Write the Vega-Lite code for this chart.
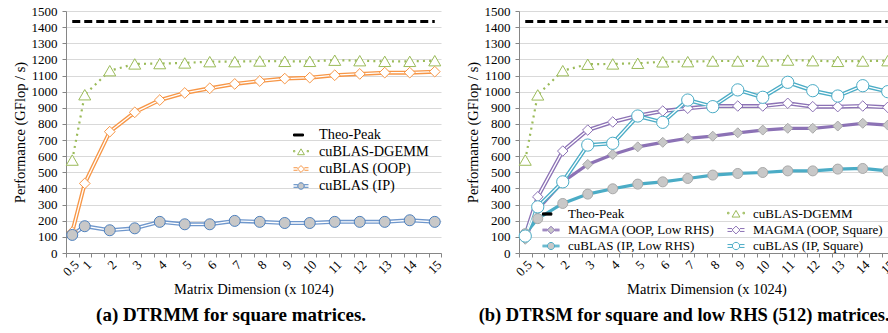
{
"$schema": "https://vega.github.io/schema/vega-lite/v6.json",
"background": "white",
"padding": {"left": 12, "top": 5, "right": 0, "bottom": 0},
"spacing": 14,
"config": {
  "view": {"stroke": null},
  "font": "Liberation Serif",
  "axis": {"labelFont": "Liberation Serif", "labelFontSize": 13, "titleFont": "Liberation Serif", "titleFontSize": 14.5, "titleFontWeight": "normal", "domainColor": "#868686", "tickColor": "#868686", "labelColor": "#000000", "titleColor": "#000000"}
},
"datasets": {
"a": [
{"s":"Theo-Peak","x":0.5,"y":1435},{"s":"Theo-Peak","x":1,"y":1435},{"s":"Theo-Peak","x":2,"y":1435},{"s":"Theo-Peak","x":3,"y":1435},{"s":"Theo-Peak","x":4,"y":1435},{"s":"Theo-Peak","x":5,"y":1435},{"s":"Theo-Peak","x":6,"y":1435},{"s":"Theo-Peak","x":7,"y":1435},{"s":"Theo-Peak","x":8,"y":1435},{"s":"Theo-Peak","x":9,"y":1435},{"s":"Theo-Peak","x":10,"y":1435},{"s":"Theo-Peak","x":11,"y":1435},{"s":"Theo-Peak","x":12,"y":1435},{"s":"Theo-Peak","x":13,"y":1435},{"s":"Theo-Peak","x":14,"y":1435},{"s":"Theo-Peak","x":15,"y":1435},
{"s":"cuBLAS-DGEMM","x":0.5,"y":576},{"s":"cuBLAS-DGEMM","x":1,"y":981},{"s":"cuBLAS-DGEMM","x":2,"y":1130},{"s":"cuBLAS-DGEMM","x":3,"y":1172},{"s":"cuBLAS-DGEMM","x":4,"y":1174},{"s":"cuBLAS-DGEMM","x":5,"y":1178},{"s":"cuBLAS-DGEMM","x":6,"y":1186},{"s":"cuBLAS-DGEMM","x":7,"y":1186},{"s":"cuBLAS-DGEMM","x":8,"y":1190},{"s":"cuBLAS-DGEMM","x":9,"y":1188},{"s":"cuBLAS-DGEMM","x":10,"y":1188},{"s":"cuBLAS-DGEMM","x":11,"y":1195},{"s":"cuBLAS-DGEMM","x":12,"y":1192},{"s":"cuBLAS-DGEMM","x":13,"y":1188},{"s":"cuBLAS-DGEMM","x":14,"y":1188},{"s":"cuBLAS-DGEMM","x":15,"y":1192},
{"s":"cuBLAS (OOP)","x":0.5,"y":130},{"s":"cuBLAS (OOP)","x":1,"y":431},{"s":"cuBLAS (OOP)","x":2,"y":752},{"s":"cuBLAS (OOP)","x":3,"y":872},{"s":"cuBLAS (OOP)","x":4,"y":948},{"s":"cuBLAS (OOP)","x":5,"y":992},{"s":"cuBLAS (OOP)","x":6,"y":1021},{"s":"cuBLAS (OOP)","x":7,"y":1048},{"s":"cuBLAS (OOP)","x":8,"y":1066},{"s":"cuBLAS (OOP)","x":9,"y":1081},{"s":"cuBLAS (OOP)","x":10,"y":1087},{"s":"cuBLAS (OOP)","x":11,"y":1102},{"s":"cuBLAS (OOP)","x":12,"y":1110},{"s":"cuBLAS (OOP)","x":13,"y":1118},{"s":"cuBLAS (OOP)","x":14,"y":1118},{"s":"cuBLAS (OOP)","x":15,"y":1124},
{"s":"cuBLAS (IP)","x":0.5,"y":112},{"s":"cuBLAS (IP)","x":1,"y":166},{"s":"cuBLAS (IP)","x":2,"y":141},{"s":"cuBLAS (IP)","x":3,"y":153},{"s":"cuBLAS (IP)","x":4,"y":193},{"s":"cuBLAS (IP)","x":5,"y":178},{"s":"cuBLAS (IP)","x":6,"y":178},{"s":"cuBLAS (IP)","x":7,"y":199},{"s":"cuBLAS (IP)","x":8,"y":193},{"s":"cuBLAS (IP)","x":9,"y":186},{"s":"cuBLAS (IP)","x":10,"y":186},{"s":"cuBLAS (IP)","x":11,"y":193},{"s":"cuBLAS (IP)","x":12,"y":193},{"s":"cuBLAS (IP)","x":13,"y":193},{"s":"cuBLAS (IP)","x":14,"y":203},{"s":"cuBLAS (IP)","x":15,"y":193}
],
"b": [
{"s":"Theo-Peak","x":0.5,"y":1435},{"s":"Theo-Peak","x":1,"y":1435},{"s":"Theo-Peak","x":2,"y":1435},{"s":"Theo-Peak","x":3,"y":1435},{"s":"Theo-Peak","x":4,"y":1435},{"s":"Theo-Peak","x":5,"y":1435},{"s":"Theo-Peak","x":6,"y":1435},{"s":"Theo-Peak","x":7,"y":1435},{"s":"Theo-Peak","x":8,"y":1435},{"s":"Theo-Peak","x":9,"y":1435},{"s":"Theo-Peak","x":10,"y":1435},{"s":"Theo-Peak","x":11,"y":1435},{"s":"Theo-Peak","x":12,"y":1435},{"s":"Theo-Peak","x":13,"y":1435},{"s":"Theo-Peak","x":14,"y":1435},{"s":"Theo-Peak","x":15,"y":1435},
{"s":"cuBLAS-DGEMM","x":0.5,"y":576},{"s":"cuBLAS-DGEMM","x":1,"y":980},{"s":"cuBLAS-DGEMM","x":2,"y":1130},{"s":"cuBLAS-DGEMM","x":3,"y":1170},{"s":"cuBLAS-DGEMM","x":4,"y":1172},{"s":"cuBLAS-DGEMM","x":5,"y":1176},{"s":"cuBLAS-DGEMM","x":6,"y":1185},{"s":"cuBLAS-DGEMM","x":7,"y":1186},{"s":"cuBLAS-DGEMM","x":8,"y":1190},{"s":"cuBLAS-DGEMM","x":9,"y":1190},{"s":"cuBLAS-DGEMM","x":10,"y":1190},{"s":"cuBLAS-DGEMM","x":11,"y":1196},{"s":"cuBLAS-DGEMM","x":12,"y":1192},{"s":"cuBLAS-DGEMM","x":13,"y":1188},{"s":"cuBLAS-DGEMM","x":14,"y":1190},{"s":"cuBLAS-DGEMM","x":15,"y":1192},
{"s":"MAGMA (OOP, Low RHS)","x":0.5,"y":85},{"s":"MAGMA (OOP, Low RHS)","x":1,"y":270},{"s":"MAGMA (OOP, Low RHS)","x":2,"y":441},{"s":"MAGMA (OOP, Low RHS)","x":3,"y":549},{"s":"MAGMA (OOP, Low RHS)","x":4,"y":611},{"s":"MAGMA (OOP, Low RHS)","x":5,"y":658},{"s":"MAGMA (OOP, Low RHS)","x":6,"y":686},{"s":"MAGMA (OOP, Low RHS)","x":7,"y":711},{"s":"MAGMA (OOP, Low RHS)","x":8,"y":724},{"s":"MAGMA (OOP, Low RHS)","x":9,"y":745},{"s":"MAGMA (OOP, Low RHS)","x":10,"y":762},{"s":"MAGMA (OOP, Low RHS)","x":11,"y":773},{"s":"MAGMA (OOP, Low RHS)","x":12,"y":773},{"s":"MAGMA (OOP, Low RHS)","x":13,"y":787},{"s":"MAGMA (OOP, Low RHS)","x":14,"y":804},{"s":"MAGMA (OOP, Low RHS)","x":15,"y":793},
{"s":"MAGMA (OOP, Square)","x":0.5,"y":110},{"s":"MAGMA (OOP, Square)","x":1,"y":348},{"s":"MAGMA (OOP, Square)","x":2,"y":632},{"s":"MAGMA (OOP, Square)","x":3,"y":762},{"s":"MAGMA (OOP, Square)","x":4,"y":812},{"s":"MAGMA (OOP, Square)","x":5,"y":851},{"s":"MAGMA (OOP, Square)","x":6,"y":880},{"s":"MAGMA (OOP, Square)","x":7,"y":897},{"s":"MAGMA (OOP, Square)","x":8,"y":911},{"s":"MAGMA (OOP, Square)","x":9,"y":911},{"s":"MAGMA (OOP, Square)","x":10,"y":911},{"s":"MAGMA (OOP, Square)","x":11,"y":928},{"s":"MAGMA (OOP, Square)","x":12,"y":907},{"s":"MAGMA (OOP, Square)","x":13,"y":907},{"s":"MAGMA (OOP, Square)","x":14,"y":911},{"s":"MAGMA (OOP, Square)","x":15,"y":903},
{"s":"cuBLAS (IP, Low RHS)","x":0.5,"y":120},{"s":"cuBLAS (IP, Low RHS)","x":1,"y":213},{"s":"cuBLAS (IP, Low RHS)","x":2,"y":307},{"s":"cuBLAS (IP, Low RHS)","x":3,"y":365},{"s":"cuBLAS (IP, Low RHS)","x":4,"y":398},{"s":"cuBLAS (IP, Low RHS)","x":5,"y":427},{"s":"cuBLAS (IP, Low RHS)","x":6,"y":441},{"s":"cuBLAS (IP, Low RHS)","x":7,"y":462},{"s":"cuBLAS (IP, Low RHS)","x":8,"y":483},{"s":"cuBLAS (IP, Low RHS)","x":9,"y":493},{"s":"cuBLAS (IP, Low RHS)","x":10,"y":499},{"s":"cuBLAS (IP, Low RHS)","x":11,"y":509},{"s":"cuBLAS (IP, Low RHS)","x":12,"y":509},{"s":"cuBLAS (IP, Low RHS)","x":13,"y":520},{"s":"cuBLAS (IP, Low RHS)","x":14,"y":524},{"s":"cuBLAS (IP, Low RHS)","x":15,"y":509},
{"s":"cuBLAS (IP, Square)","x":0.5,"y":105},{"s":"cuBLAS (IP, Square)","x":1,"y":286},{"s":"cuBLAS (IP, Square)","x":2,"y":441},{"s":"cuBLAS (IP, Square)","x":3,"y":669},{"s":"cuBLAS (IP, Square)","x":4,"y":680},{"s":"cuBLAS (IP, Square)","x":5,"y":849},{"s":"cuBLAS (IP, Square)","x":6,"y":810},{"s":"cuBLAS (IP, Square)","x":7,"y":948},{"s":"cuBLAS (IP, Square)","x":8,"y":907},{"s":"cuBLAS (IP, Square)","x":9,"y":1011},{"s":"cuBLAS (IP, Square)","x":10,"y":965},{"s":"cuBLAS (IP, Square)","x":11,"y":1058},{"s":"cuBLAS (IP, Square)","x":12,"y":1006},{"s":"cuBLAS (IP, Square)","x":13,"y":973},{"s":"cuBLAS (IP, Square)","x":14,"y":1037},{"s":"cuBLAS (IP, Square)","x":15,"y":1000}
]
},
"hconcat": [
{
  "width": 375, "height": 242,
  "data": {"name": "a"},
  "title": {"text": "(a)  DTRMM for square matrices.", "orient": "bottom", "frame": "bounds", "anchor": "middle", "fontSize": 19, "fontWeight": "bold", "font": "Liberation Serif", "offset": 10, "color": "#000000"},
  "encoding": {
    "x": {"field": "x", "type": "quantitative", "scale": {"domain": [0.25, 15.25], "nice": false, "zero": false},
      "axis": {"title": "Matrix Dimension (x 1024)", "values": [0.25,0.5,0.75,1,1.25,1.5,1.75,2,2.25,2.5,2.75,3,3.25,3.5,3.75,4,4.25,4.5,4.75,5,5.25,5.5,5.75,6,6.25,6.5,6.75,7,7.25,7.5,7.75,8,8.25,8.5,8.75,9,9.25,9.5,9.75,10,10.25,10.5,10.75,11,11.25,11.5,11.75,12,12.25,12.5,12.75,13,13.25,13.5,13.75,14,14.25,14.5,14.75,15,15.25],
        "labelExpr": "datum.value == 0.5 || (datum.value >= 1 && datum.value % 1 == 0) ? '' + datum.value : ''",
        "tickOpacity": {"condition": {"test": "datum.value % 0.5 == 0.25", "value": 1}, "value": 0},
        "grid": false, "labelAngle": -45, "labelAlign": "right", "labelBaseline": "top", "labelOverlap": false, "labelFlush": false, "tickSize": 4, "labelPadding": 1, "titlePadding": 4}},
    "y": {"field": "y", "type": "quantitative", "scale": {"domain": [0, 1500], "nice": false},
      "axis": {"title": "Performance (GFlop / s)", "format": "d", "values": [0,100,200,300,400,500,600,700,800,900,1000,1100,1200,1300,1400,1500], "gridColor": "#d9d9d9", "tickSize": 4, "labelPadding": 5, "titlePadding": 4}}
  },
  "resolve": {"scale": {"stroke": "independent", "fill": "independent", "shape": "independent", "size": "independent"}},
  "layer": [
    {"transform": [{"filter": "datum.s == 'Theo-Peak'"}], "mark": {"type": "line", "stroke": "#000000", "strokeWidth": 3, "strokeDash": [8, 4]}},
    {"transform": [{"filter": "datum.s == 'cuBLAS-DGEMM'"}], "mark": {"type": "line", "stroke": "#9bbb59", "strokeWidth": 2.2, "strokeDash": [2, 4.2]}},
    {"transform": [{"filter": "datum.s == 'cuBLAS (OOP)' || datum.s == 'cuBLAS (IP)'"}], "mark": {"type": "line", "strokeWidth": 4},
     "encoding": {"stroke": {"field": "s", "type": "nominal", "scale": {"domain": ["cuBLAS (OOP)", "cuBLAS (IP)"], "range": ["#f79646", "#6f97cc"]}, "legend": null}}},
    {"transform": [{"filter": "datum.s == 'cuBLAS (OOP)' || datum.s == 'cuBLAS (IP)'"}], "mark": {"type": "line", "strokeWidth": 1.3, "stroke": "#ffffff"},
     "encoding": {"detail": {"field": "s", "type": "nominal"}}},
    {"transform": [{"filter": "datum.s != 'Theo-Peak'"}], "mark": {"type": "point", "strokeWidth": 1, "opacity": 1, "fillOpacity": 1},
     "encoding": {
       "shape": {"field": "s", "type": "nominal", "scale": {"domain": ["cuBLAS-DGEMM", "cuBLAS (OOP)", "cuBLAS (IP)"], "range": ["triangle-up", "diamond", "circle"]}, "legend": null},
       "fill": {"field": "s", "type": "nominal", "scale": {"domain": ["cuBLAS-DGEMM", "cuBLAS (OOP)", "cuBLAS (IP)"], "range": ["#ffffff", "#ffffff", "#c8c8c8"]}, "legend": null},
       "stroke": {"field": "s", "type": "nominal", "scale": {"domain": ["cuBLAS-DGEMM", "cuBLAS (OOP)", "cuBLAS (IP)"], "range": ["#9bbb59", "#f79646", "#4f81bd"]}, "legend": null},
       "size": {"field": "s", "type": "nominal", "scale": {"type": "ordinal", "domain": ["cuBLAS-DGEMM", "cuBLAS (OOP)", "cuBLAS (IP)"], "range": [144, 115, 121]}, "legend": null}
     }},
    {"transform": [{"filter": "datum.x > 99"}], "mark": {"type": "point", "strokeWidth": 1, "opacity": 1},
     "encoding": {
       "shape": {"field": "s", "type": "nominal", "scale": {"domain": ["Theo-Peak", "cuBLAS-DGEMM", "cuBLAS (OOP)", "cuBLAS (IP)"], "range": ["M-1,-0.13H0.33V0.13H-1Z", "M-1,-0.2h0.18v0.18h-0.18Z M0.82,-0.2h0.18v0.18h-0.18Z M0,-0.42L0.46,0.36L-0.46,0.36Z", "M-1,-0.17H-0.46M0.46,-0.17H1M-1,0.17H-0.46M0.46,0.17H1M0,-0.46L0.46,0L0,0.46L-0.46,0Z", "M-1,-0.17H-0.43M0.43,-0.17H1M-1,0.17H-0.43M0.43,0.17H1M-0.43,0A0.43,0.43 0 1,1 0.43,0A0.43,0.43 0 1,1 -0.43,0Z"]},
         "legend": {"orient": "none", "legendX": 227, "legendY": 116, "title": null, "labelFont": "Liberation Serif", "labelFontSize": 14.3, "labelColor": "#000000", "symbolSize": 225, "symbolStrokeWidth": 1, "rowPadding": 1, "labelOffset": 10, "padding": 0, "symbolOpacity": 1, "labelLimit": 300}},
       "fill": {"field": "s", "type": "nominal", "scale": {"domain": ["Theo-Peak", "cuBLAS-DGEMM", "cuBLAS (OOP)", "cuBLAS (IP)"], "range": ["#000000", "#ffffff", "#ffffff", "#c8c8c8"]},
         "legend": {"orient": "none", "legendX": 227, "legendY": 116, "title": null, "labelFont": "Liberation Serif", "labelFontSize": 14.3, "labelColor": "#000000", "symbolSize": 225, "symbolStrokeWidth": 1, "rowPadding": 1, "labelOffset": 10, "padding": 0, "symbolOpacity": 1, "labelLimit": 300}},
       "stroke": {"field": "s", "type": "nominal", "scale": {"domain": ["Theo-Peak", "cuBLAS-DGEMM", "cuBLAS (OOP)", "cuBLAS (IP)"], "range": ["#000000", "#9bbb59", "#f79646", "#4f81bd"]},
         "legend": {"orient": "none", "legendX": 227, "legendY": 116, "title": null, "labelFont": "Liberation Serif", "labelFontSize": 14.3, "labelColor": "#000000", "symbolSize": 225, "symbolStrokeWidth": 1, "rowPadding": 1, "labelOffset": 10, "padding": 0, "symbolOpacity": 1, "labelLimit": 300}}
     }}
  ]
},
{
  "width": 375, "height": 242,
  "data": {"name": "b"},
  "title": {"text": "(b)  DTRSM for square and low RHS (512) matrices.", "orient": "bottom", "frame": "bounds", "anchor": "middle", "fontSize": 18.5, "fontWeight": "bold", "font": "Liberation Serif", "offset": 10, "color": "#000000"},
  "encoding": {
    "x": {"field": "x", "type": "quantitative", "scale": {"domain": [0.25, 15.25], "nice": false, "zero": false},
      "axis": {"title": "Matrix Dimension (x 1024)", "values": [0.25,0.5,0.75,1,1.25,1.5,1.75,2,2.25,2.5,2.75,3,3.25,3.5,3.75,4,4.25,4.5,4.75,5,5.25,5.5,5.75,6,6.25,6.5,6.75,7,7.25,7.5,7.75,8,8.25,8.5,8.75,9,9.25,9.5,9.75,10,10.25,10.5,10.75,11,11.25,11.5,11.75,12,12.25,12.5,12.75,13,13.25,13.5,13.75,14,14.25,14.5,14.75,15,15.25],
        "labelExpr": "datum.value == 0.5 || (datum.value >= 1 && datum.value % 1 == 0) ? '' + datum.value : ''",
        "tickOpacity": {"condition": {"test": "datum.value % 0.5 == 0.25", "value": 1}, "value": 0},
        "grid": false, "labelAngle": -45, "labelAlign": "right", "labelBaseline": "top", "labelOverlap": false, "labelFlush": false, "tickSize": 4, "labelPadding": 1, "titlePadding": 4}},
    "y": {"field": "y", "type": "quantitative", "scale": {"domain": [0, 1500], "nice": false},
      "axis": {"title": "Performance (GFlop / s)", "format": "d", "values": [0,100,200,300,400,500,600,700,800,900,1000,1100,1200,1300,1400,1500], "gridColor": "#d9d9d9", "tickSize": 4, "labelPadding": 5, "titlePadding": 4}}
  },
  "resolve": {"scale": {"stroke": "independent", "fill": "independent", "shape": "independent", "size": "independent"}},
  "layer": [
    {"transform": [{"filter": "datum.s == 'Theo-Peak'"}], "mark": {"type": "line", "stroke": "#000000", "strokeWidth": 3, "strokeDash": [8, 4]}},
    {"transform": [{"filter": "datum.s == 'cuBLAS-DGEMM'"}], "mark": {"type": "line", "stroke": "#9bbb59", "strokeWidth": 2.2, "strokeDash": [2, 4.2]}},
    {"transform": [{"filter": "datum.s == 'MAGMA (OOP, Low RHS)' || datum.s == 'cuBLAS (IP, Low RHS)'"}], "mark": {"type": "line", "strokeWidth": 3.2},
     "encoding": {"stroke": {"field": "s", "type": "nominal", "scale": {"domain": ["MAGMA (OOP, Low RHS)", "cuBLAS (IP, Low RHS)"], "range": ["#8c72b5", "#4bacc6"]}, "legend": null}}},
    {"transform": [{"filter": "datum.s == 'MAGMA (OOP, Square)' || datum.s == 'cuBLAS (IP, Square)'"}], "mark": {"type": "line", "strokeWidth": 4},
     "encoding": {"stroke": {"field": "s", "type": "nominal", "scale": {"domain": ["MAGMA (OOP, Square)", "cuBLAS (IP, Square)"], "range": ["#8c72b5", "#4bacc6"]}, "legend": null}}},
    {"transform": [{"filter": "datum.s == 'MAGMA (OOP, Square)' || datum.s == 'cuBLAS (IP, Square)'"}], "mark": {"type": "line", "strokeWidth": 1.3, "stroke": "#ffffff"},
     "encoding": {"detail": {"field": "s", "type": "nominal"}}},
    {"transform": [{"filter": "datum.s != 'Theo-Peak'"}], "mark": {"type": "point", "strokeWidth": 1, "opacity": 1, "fillOpacity": 1},
     "encoding": {
       "shape": {"field": "s", "type": "nominal", "scale": {"domain": ["cuBLAS-DGEMM", "MAGMA (OOP, Low RHS)", "MAGMA (OOP, Square)", "cuBLAS (IP, Low RHS)", "cuBLAS (IP, Square)"], "range": ["triangle-up", "diamond", "diamond", "circle", "circle"]}, "legend": null},
       "fill": {"field": "s", "type": "nominal", "scale": {"domain": ["cuBLAS-DGEMM", "MAGMA (OOP, Low RHS)", "MAGMA (OOP, Square)", "cuBLAS (IP, Low RHS)", "cuBLAS (IP, Square)"], "range": ["#ffffff", "#c8c8c8", "#ffffff", "#c8c8c8", "#ffffff"]}, "legend": null},
       "stroke": {"field": "s", "type": "nominal", "scale": {"domain": ["cuBLAS-DGEMM", "MAGMA (OOP, Low RHS)", "MAGMA (OOP, Square)", "cuBLAS (IP, Low RHS)", "cuBLAS (IP, Square)"], "range": ["#9bbb59", "#a9a9a9", "#8c72b5", "#a9a9a9", "#4bacc6"]}, "legend": null},
       "size": {"field": "s", "type": "nominal", "scale": {"type": "ordinal", "domain": ["cuBLAS-DGEMM", "MAGMA (OOP, Low RHS)", "MAGMA (OOP, Square)", "cuBLAS (IP, Low RHS)", "cuBLAS (IP, Square)"], "range": [144, 100, 110, 100, 150]}, "legend": null}
     }},
    {"transform": [{"filter": "datum.x > 99"}], "mark": {"type": "point", "strokeWidth": 1, "opacity": 1},
     "encoding": {
       "shape": {"field": "s", "type": "nominal", "scale": {"domain": ["Theo-Peak", "MAGMA (OOP, Low RHS)", "cuBLAS (IP, Low RHS)", "cuBLAS-DGEMM", "MAGMA (OOP, Square)", "cuBLAS (IP, Square)"], "range": ["M-1,-0.13H0.1V0.13H-1Z", "M-1,-0.1H-0.44M0.44,-0.1H1M-1,0H-0.44M0.44,0H1M-1,0.1H-0.44M0.44,0.1H1M0,-0.44L0.44,0L0,0.44L-0.44,0Z", "M-1,-0.1H-0.42M0.42,-0.1H1M-1,0H-0.42M0.42,0H1M-1,0.1H-0.42M0.42,0.1H1M-0.42,0A0.42,0.42 0 1,1 0.42,0A0.42,0.42 0 1,1 -0.42,0Z", "M-1,-0.2h0.18v0.18h-0.18Z M0.82,-0.2h0.18v0.18h-0.18Z M0,-0.42L0.46,0.36L-0.46,0.36Z", "M-1,-0.17H-0.46M0.46,-0.17H1M-1,0.17H-0.46M0.46,0.17H1M0,-0.46L0.46,0L0,0.46L-0.46,0Z", "M-1,-0.17H-0.43M0.43,-0.17H1M-1,0.17H-0.43M0.43,0.17H1M-0.43,0A0.43,0.43 0 1,1 0.43,0A0.43,0.43 0 1,1 -0.43,0Z"]},
         "legend": {"orient": "none", "legendX": 23, "legendY": 194, "title": null, "columns": 2, "labelFont": "Liberation Serif", "labelFontSize": 13, "labelColor": "#000000", "symbolSize": 289, "symbolStrokeWidth": 1, "rowPadding": 0, "columnPadding": 10, "labelOffset": 8, "padding": 0, "symbolOpacity": 1, "labelLimit": 300}},
       "fill": {"field": "s", "type": "nominal", "scale": {"domain": ["Theo-Peak", "MAGMA (OOP, Low RHS)", "cuBLAS (IP, Low RHS)", "cuBLAS-DGEMM", "MAGMA (OOP, Square)", "cuBLAS (IP, Square)"], "range": ["#000000", "#c8c8c8", "#c8c8c8", "#ffffff", "#ffffff", "#ffffff"]},
         "legend": {"orient": "none", "legendX": 23, "legendY": 194, "title": null, "columns": 2, "labelFont": "Liberation Serif", "labelFontSize": 13, "labelColor": "#000000", "symbolSize": 289, "symbolStrokeWidth": 1, "rowPadding": 0, "columnPadding": 10, "labelOffset": 8, "padding": 0, "symbolOpacity": 1, "labelLimit": 300}},
       "stroke": {"field": "s", "type": "nominal", "scale": {"domain": ["Theo-Peak", "MAGMA (OOP, Low RHS)", "cuBLAS (IP, Low RHS)", "cuBLAS-DGEMM", "MAGMA (OOP, Square)", "cuBLAS (IP, Square)"], "range": ["#000000", "#8c72b5", "#4bacc6", "#9bbb59", "#8c72b5", "#4bacc6"]},
         "legend": {"orient": "none", "legendX": 23, "legendY": 194, "title": null, "columns": 2, "labelFont": "Liberation Serif", "labelFontSize": 13, "labelColor": "#000000", "symbolSize": 289, "symbolStrokeWidth": 1, "rowPadding": 0, "columnPadding": 10, "labelOffset": 8, "padding": 0, "symbolOpacity": 1, "labelLimit": 300}}
     }}
  ]
}
]
}
